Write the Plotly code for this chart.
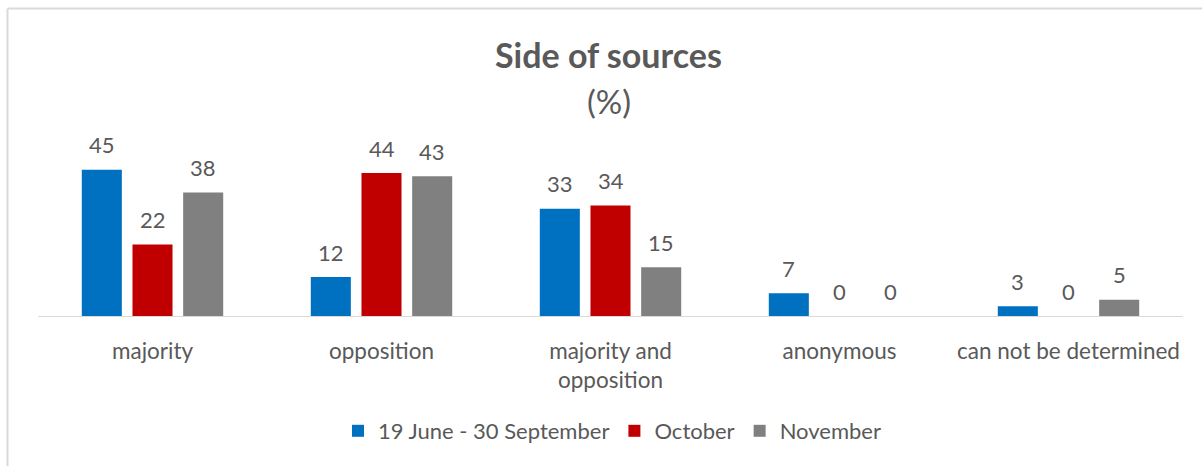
import plotly.graph_objects as go

# Share of sources by side, in percent
categories = ["majority", "opposition", "majority and<br>opposition", "anonymous", "can not be determined"]
series_names = ["19 June - 30 September", "October", "November"]
summer = [45, 12, 33, 7, 3]
october = [22, 44, 34, 0, 0]
november = [38, 43, 15, 0, 5]

series_values = [summer, october, november]
colors = ["#0070C0", "#C00000", "#808080"]

W, H = 1202, 466
M_L, M_R, M_T, M_B = 38, 19, 121, 150
BARGAP = 0.336
GROUPGAP = 0.21
FONT = "Lato"
TXT = "#595959"

x_idx = list(range(len(categories)))
fig = go.Figure()
for name, vals, col in zip(series_names, series_values, colors):
    fig.add_trace(go.Bar(
        x=x_idx, y=vals, name=name,
        marker=dict(color=col, line=dict(width=0)),
        hoverinfo="skip",
    ))

# value labels above each bar
n = len(series_values)
slot = (1 - BARGAP) / n
for j, vals in enumerate(series_values):
    for i, v in enumerate(vals):
        fig.add_annotation(
            x=i + (j - (n - 1) / 2) * slot, y=v, xref="x", yref="y",
            text=str(v), showarrow=False, yanchor="middle", yshift=25,
            font=dict(family=FONT, size=22, color=TXT),
        )

pw = W - M_L - M_R
ph = H - M_T - M_B

def px_x(p):
    return (p - M_L) / pw

def px_y(p):
    return (H - M_B - p) / ph

# title lines
fig.add_annotation(x=px_x(608), y=px_y(54), xref="paper", yref="paper",
                   text="<b>Side of sources</b>", showarrow=False,
                   xanchor="center", yanchor="middle",
                   font=dict(family=FONT, size=34, color=TXT))
fig.add_annotation(x=px_x(609), y=px_y(101), xref="paper", yref="paper",
                   text="(%)", showarrow=False,
                   xanchor="center", yanchor="middle",
                   font=dict(family=FONT, size=33, color=TXT))

# chart frame (top and left edges)
frame = dict(color="#D9D9D9", width=2)
fig.add_shape(type="line", xref="paper", yref="paper",
              x0=px_x(7.5), y0=px_y(8.5), x1=px_x(1210), y1=px_y(8.5), line=frame)
fig.add_shape(type="line", xref="paper", yref="paper",
              x0=px_x(7.5), y0=px_y(8.5), x1=px_x(7.5), y1=px_y(470), line=frame)

fig.update_layout(
    width=W, height=H,
    margin=dict(l=M_L, r=M_R, t=M_T, b=M_B, autoexpand=False),
    paper_bgcolor="white", plot_bgcolor="white",
    barmode="group", bargap=BARGAP, bargroupgap=GROUPGAP,
    showlegend=True,
    legend=dict(orientation="h", x=px_x(612), y=px_y(431),
                xanchor="center", yanchor="middle",
                font=dict(family=FONT, size=22, color=TXT),
                itemwidth=30, traceorder="normal"),
    font=dict(family=FONT, color=TXT),
)
fig.update_xaxes(
    range=[-0.5, len(categories) - 0.5],
    tickmode="array", tickvals=x_idx, ticktext=categories,
    tickfont=dict(family=FONT, size=22.5, color=TXT),
    ticks="outside", ticklen=15, tickcolor="rgba(0,0,0,0)",
    showline=True, linecolor="#D9D9D9", linewidth=1,
    showgrid=False, zeroline=False, fixedrange=True,
)
fig.update_yaxes(range=[0, 60], visible=False, showgrid=False,
                 zeroline=False, fixedrange=True)

fig.write_html("out.html")
